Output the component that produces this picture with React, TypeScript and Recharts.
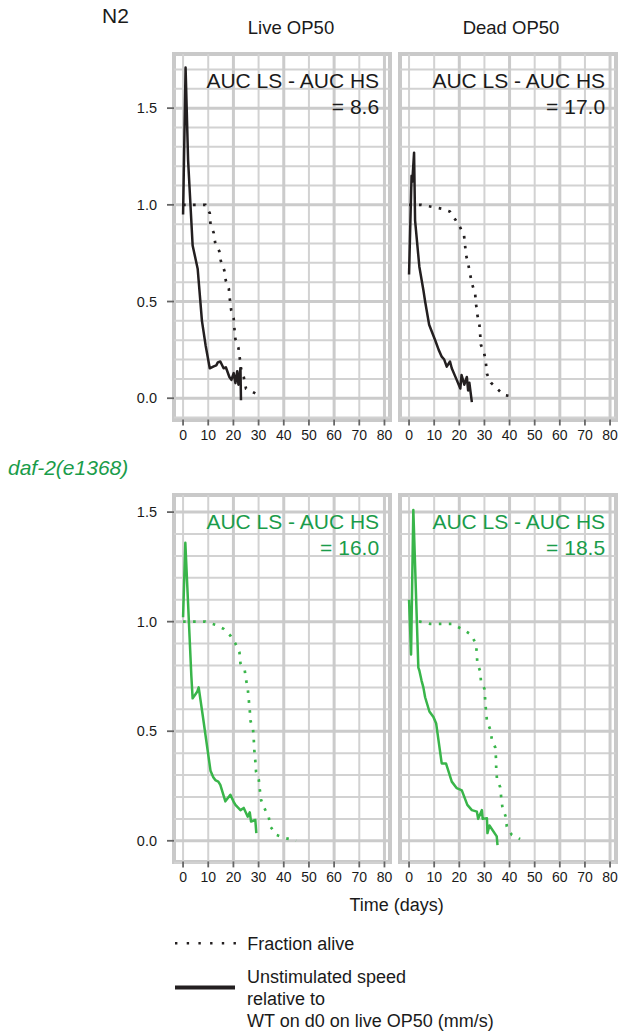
import { LineChart, Line, XAxis, YAxis, CartesianGrid } from 'recharts';

// [day, value] pairs
const n2LiveSpeed = [
  [0, 0.95], [1, 1.71], [2, 1.23], [3.8, 0.79], [5.8, 0.67], [7.5, 0.4], [9, 0.27], [10.6, 0.155],
  [12.2, 0.165], [13.2, 0.17], [13.8, 0.185], [14.8, 0.19], [16.1, 0.155], [17, 0.16], [18.4, 0.11],
  [19.2, 0.095], [20.1, 0.13], [20.8, 0.078], [21.5, 0.14], [22, 0.07], [22.8, 0.155], [23, -0.01],
];
const n2LiveAlive = [
  [0, 1], [4, 1], [8.9, 1], [10.6, 0.957], [10.9, 0.9], [12.2, 0.854], [12.8, 0.8], [14.4, 0.76],
  [15, 0.71], [16.4, 0.66], [17, 0.607], [18.2, 0.565], [18.6, 0.51], [19.1, 0.457], [20.1, 0.414],
  [20.4, 0.36], [20.8, 0.305], [22, 0.26], [22.5, 0.21], [23, 0.155], [24.1, 0.11], [25, 0.05],
  [28, 0.03], [31.1, 0.008],
];
const n2DeadSpeed = [
  [0, 0.64], [1, 1.15], [1.3, 1.12], [2, 1.27], [2.4, 0.92], [4.1, 0.68], [5.7, 0.56], [6.4, 0.5],
  [8, 0.38], [10.4, 0.3], [11.8, 0.25], [13, 0.215], [14, 0.2], [15, 0.163], [16.3, 0.19], [17, 0.155],
  [18.8, 0.1], [20.4, 0.05], [20.9, 0.12], [22, 0.07], [23, 0.11], [23.5, 0.04], [24, 0.08], [25, -0.02],
];
const n2DeadAlive = [
  [0, 1], [4.9, 1], [9, 0.99], [13, 0.98], [16.3, 0.965], [18.6, 0.92], [20.3, 0.885], [21.9, 0.84],
  [22.3, 0.79], [22.7, 0.74], [23.6, 0.69], [24.3, 0.64], [25.2, 0.586], [26.3, 0.54], [26.7, 0.483],
  [27.2, 0.43], [28, 0.38], [28.3, 0.33], [28.6, 0.276], [29.9, 0.233], [30.6, 0.18], [31, 0.126],
  [32.6, 0.08], [35.2, 0.048], [37.6, 0.017], [41.6, 0.008],
];
const daf2LiveSpeed = [
  [0, 1.02], [0.9, 1.36], [3.3, 0.75], [3.8, 0.65], [5, 0.67], [5.6, 0.68], [6.2, 0.7], [7.9, 0.565],
  [10.9, 0.32], [12, 0.29], [12.8, 0.277], [14, 0.27], [14.8, 0.255], [16.8, 0.18], [18.8, 0.21],
  [20, 0.18], [20.8, 0.164], [22.8, 0.14], [24.1, 0.15], [25.7, 0.11], [26.5, 0.13], [27, 0.088],
  [28.7, 0.095], [29.1, 0.035],
];
const daf2LiveAlive = [
  [0, 1], [4.5, 1], [8.8, 1], [12.8, 0.986], [16.1, 0.967], [18.8, 0.936], [20.8, 0.9], [22.4, 0.86],
  [22.8, 0.81], [24.5, 0.777], [25.1, 0.73], [25.7, 0.694], [26.1, 0.644], [26.5, 0.595], [26.8, 0.547],
  [27.8, 0.508], [28.1, 0.46], [28.3, 0.414], [28.7, 0.365], [29, 0.315], [30.1, 0.277], [30.5, 0.232],
  [31, 0.186], [32.3, 0.149], [34, 0.11], [34.7, 0.065], [37, 0.027], [40.7, 0.012], [44.9, 0.001],
];
const daf2DeadSpeed = [
  [0, 1.1], [0.8, 0.85], [1.7, 1.51], [3.7, 0.79], [4.1, 0.777], [5, 0.73], [5.7, 0.7], [6.4, 0.655],
  [8.1, 0.59], [9.7, 0.565], [10.8, 0.535], [13, 0.353], [14.7, 0.353], [17, 0.27], [19, 0.24],
  [21, 0.23], [23.2, 0.164], [25, 0.14], [27, 0.133], [27.5, 0.1], [29, 0.14], [29.3, 0.1], [31, 0.103],
  [31.2, 0.035], [32, 0.07], [34.9, 0.02], [35.2, -0.02],
];
const daf2DeadAlive = [
  [0, 1], [4.4, 1], [8.4, 0.99], [12.4, 0.99], [17, 0.99], [21, 0.967], [24.3, 0.944], [26.7, 0.9],
  [26.9, 0.86], [27.2, 0.81], [28.3, 0.774], [28.6, 0.73], [30, 0.694], [30.3, 0.644], [30.6, 0.595],
  [31, 0.547], [32.3, 0.508], [33, 0.46], [34.3, 0.426], [34.6, 0.376], [34.7, 0.327], [35, 0.28],
  [36.3, 0.244], [36.7, 0.194], [37.2, 0.149], [38.5, 0.11], [38.9, 0.065], [40.9, 0.027], [44.2, 0.008],
];

const aucValues = ['8.6', '17.0', '16.0', '18.5'];
const columnTitles = ['Live OP50', 'Dead OP50'];
const rowTitles = ['N2', 'daf-2(e1368)'];

const xTicks = [0, 10, 20, 30, 40, 50, 60, 70, 80];
const xGridThin = [0, 10, 30, 50, 70];
const xGridThick = [20, 40, 60, 80];
const yTicks = [0, 0.5, 1, 1.5];
const yGridThin = [-0.1, 0.1, 0.2, 0.3, 0.4, 0.6, 0.7, 0.8, 0.9, 1.1, 1.2, 1.3, 1.4, 1.6, 1.7];
const yGridThick = [0, 0.5, 1, 1.5];

const BLACK = '#231f20';
const GREEN_LINE = '#39b54a';
const GREEN_TEXT = '#1a9c4a';
const FONT = '"Liberation Sans", Arial, Helvetica, sans-serif';

const toPoints = (pairs: number[][]) => pairs.map(([day, v]) => ({ day, v }));

type PanelProps = {
  left: number;
  top: number;
  plotW: number;
  plotH: number;
  yDomain: number[];
  speed: number[][];
  alive: number[][];
  color: string;
  showY: boolean;
};

function Panel({ left, top, plotW, plotH, yDomain, speed, alive, color, showY }: PanelProps) {
  const yW = showY ? 60 : 0;
  const xH = 34;
  const padR = 12; // room for the last tick label
  return (
    <div style={{ position: 'absolute', left: left - yW, top, width: yW + plotW + padR, height: plotH + xH }}>
      <div
        style={{
          position: 'absolute', left: yW - 2, top: -2, width: plotW + 4, height: plotH + 4,
          border: '4px solid #c9c9c9', boxSizing: 'border-box',
        }}
      />
      <div style={{ position: 'absolute', left: 0, top: 0 }}>
        <LineChart width={yW + plotW + padR} height={plotH + xH} margin={{ top: 0, right: padR, bottom: 0, left: 0 }}>
          <CartesianGrid horizontalValues={yGridThin} verticalValues={xGridThin} stroke="#d2d2d2" strokeWidth={2} />
          <CartesianGrid horizontalValues={yGridThick} verticalValues={xGridThick} stroke="#cbcbcb" strokeWidth={3} />
          <XAxis
            type="number" dataKey="day" domain={[-3.6, 82.2]} ticks={xTicks} interval={0} allowDataOverflow
            height={xH} axisLine={false} tickSize={6} tickMargin={5}
            tickLine={{ stroke: '#666', strokeWidth: 1.8 }}
            tick={{ fontSize: 14, fill: '#1a1a1a', fontFamily: FONT }}
          />
          <YAxis
            type="number" domain={yDomain} ticks={yTicks} interval={0} allowDataOverflow hide={!showY}
            width={yW} axisLine={false} tickSize={7} tickMargin={10}
            tickFormatter={(v: number) => v.toFixed(1)}
            tickLine={{ stroke: '#666', strokeWidth: 1.8 }}
            tick={{ fontSize: 14.5, fill: '#1a1a1a', fontFamily: FONT }}
          />
          <Line
            data={toPoints(alive)} dataKey="v" type="linear" stroke={color} strokeWidth={2.7}
            strokeDasharray="2.6 7.4" dot={false} activeDot={false} isAnimationActive={false}
          />
          <Line
            data={toPoints(speed)} dataKey="v" type="linear" stroke={color} strokeWidth={2.5}
            strokeLinejoin="round" dot={false} activeDot={false} isAnimationActive={false}
          />
        </LineChart>
      </div>
    </div>
  );
}

const cols = [
  { x: 173.6, w: 216 },
  { x: 400, w: 215.6 },
];
const rows = [
  { y: 54, h: 365.5, domain: [-0.11, 1.78], color: BLACK },
  { y: 495.3, h: 366.4, domain: [-0.094, 1.578], color: GREEN_LINE },
];
const series = [
  [n2LiveSpeed, n2LiveAlive],
  [n2DeadSpeed, n2DeadAlive],
  [daf2LiveSpeed, daf2LiveAlive],
  [daf2DeadSpeed, daf2DeadAlive],
];

export default function App() {
  return (
    <div
      style={{
        position: 'absolute', left: 0, top: 0, width: 618, height: 1032, overflow: 'hidden',
        background: '#fff', fontFamily: FONT,
      }}
    >
      {rows.map((r, ri) =>
        cols.map((c, ci) => {
          const [speed, alive] = series[ri * 2 + ci];
          return (
            <Panel
              key={`${ri}-${ci}`}
              left={c.x}
              top={r.y}
              plotW={c.w}
              plotH={r.h}
              yDomain={r.domain}
              speed={speed}
              alive={alive}
              color={r.color}
              showY={ci === 0}
            />
          );
        })
      )}
      <svg
        width={618}
        height={1032}
        style={{ position: 'absolute', left: 0, top: 0, pointerEvents: 'none' }}
        fontFamily={FONT}
      >
        <text x={102} y={22.5} fontSize={21} fill="#1a1a1a">{rowTitles[0]}</text>
        <text x={8} y={474.5} fontSize={21} fill={GREEN_TEXT} fontStyle="italic">{rowTitles[1]}</text>
        <text x={291} y={33.6} fontSize={18.5} fill="#1a1a1a" textAnchor="middle">{columnTitles[0]}</text>
        <text x={511} y={33.6} fontSize={18.5} fill="#1a1a1a" textAnchor="middle">{columnTitles[1]}</text>
        {rows.map((r, ri) =>
          cols.map((c, ci) => {
            const fill = ri === 0 ? '#1a1a1a' : GREEN_TEXT;
            const xr = c.x + c.w - 10.5;
            return (
              <g key={`auc-${ri}-${ci}`}>
                <text x={xr} y={r.y + 26 + 7.5} fontSize={21} fill={fill} textAnchor="end">AUC LS - AUC HS</text>
                <text x={xr} y={r.y + 52 + 7.5} fontSize={21} fill={fill} textAnchor="end">= {aucValues[ri * 2 + ci]}</text>
              </g>
            );
          })
        )}
        <text x={396.7} y={910.5} fontSize={18} fill="#1a1a1a" textAnchor="middle">Time (days)</text>
        <line x1={175} y1={943.3} x2={237} y2={943.3} stroke={BLACK} strokeWidth={2.6} strokeDasharray="2.4 9.3" />
        <text x={247.3} y={949.8} fontSize={18} fill="#1a1a1a">Fraction alive</text>
        <line x1={175} y1={987.5} x2={235} y2={987.5} stroke={BLACK} strokeWidth={3.8} />
        <text x={247} y={983.2} fontSize={18} fill="#1a1a1a">Unstimulated speed</text>
        <text x={247} y={1004.8} fontSize={18} fill="#1a1a1a">relative to</text>
        <text x={247} y={1026.5} fontSize={18} fill="#1a1a1a">WT on d0 on live OP50 (mm/s)</text>
      </svg>
    </div>
  );
}
